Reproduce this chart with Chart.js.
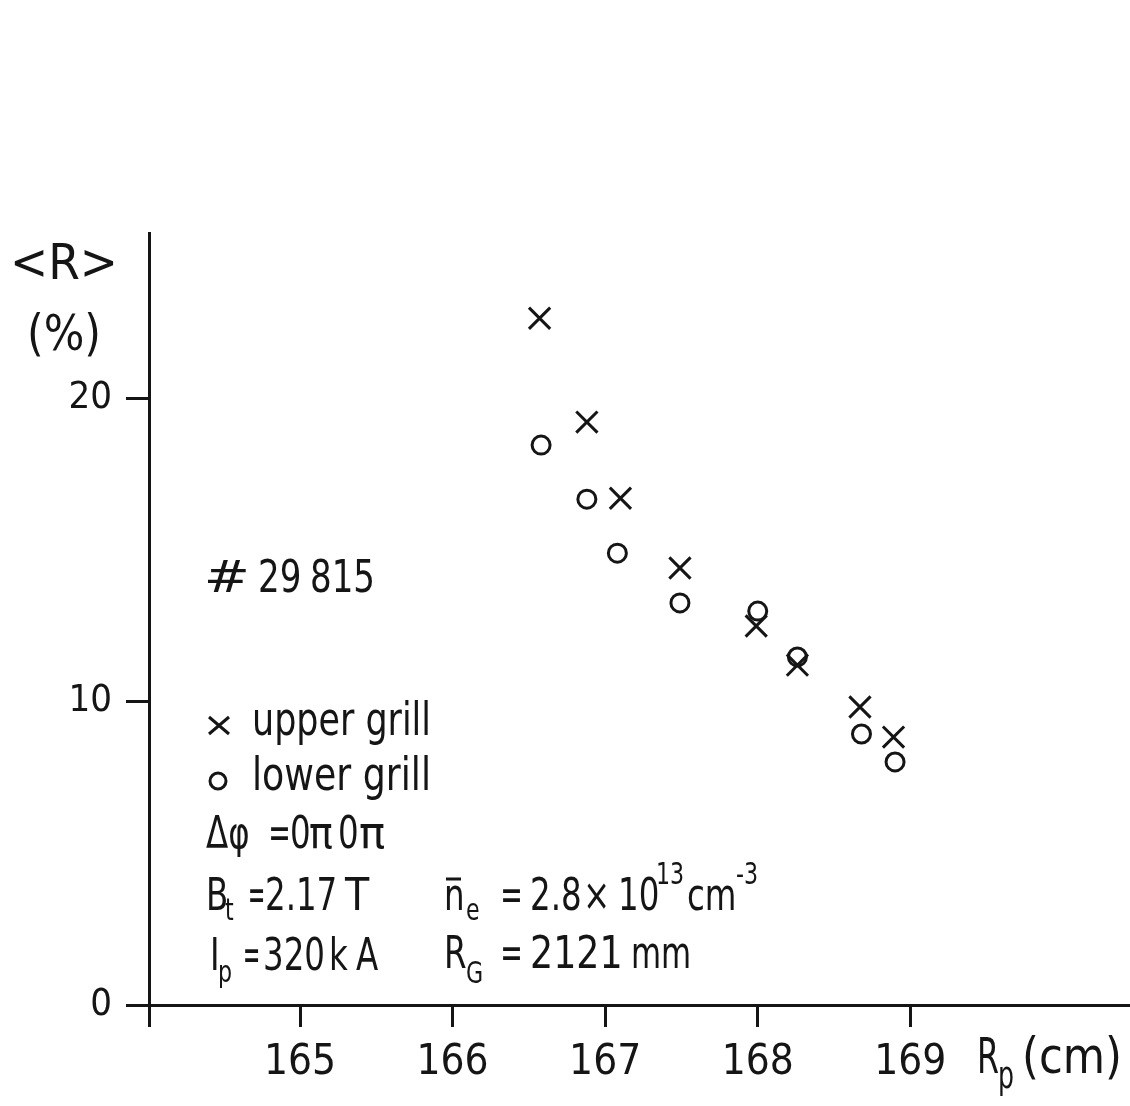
<!DOCTYPE html>
<html>
<head>
<meta charset="utf-8">
<script src="https://cdn.jsdelivr.net/npm/chart.js@4/dist/chart.umd.min.js"></script>
<style>
  html, body { margin: 0; padding: 0; background: #fff; overflow: hidden; }
  canvas { display: block; }
</style>
</head>
<body>
<canvas id="grafico" width="1130" height="1106"></canvas>
<script>
// =====================
// DATOS
// =====================
const xTicks = [165, 166, 167, 168, 169];
const yTicks = [0, 10, 20];

// x  -> upper grill
const rpUpper = [166.57, 166.88, 167.10, 167.49, 167.99, 168.26, 168.67, 168.89];
const rUpper  = [22.63, 19.21, 16.70, 14.40, 12.49, 11.20, 9.82, 8.83];

// o  -> lower grill
const rpLower = [166.58, 166.88, 167.08, 167.49, 168.00, 168.26, 168.68, 168.90];
const rLower  = [18.45, 16.67, 14.89, 13.25, 12.98, 11.47, 8.93, 8.01];

const X_MIN = 164.01, X_MAX = 170.44;
const Y_MIN = 0, Y_MAX = 25.44;

// =====================
// ESTILO
// =====================
const FONT = "'DejaVu Sans Condensed','DejaVu Sans',sans-serif";
const INK = "#151515";
const SX = 0.82;   // la letra del original es más estrecha

function draw(ctx, t, size, x, y, sx) {
  ctx.font = size + "px " + FONT;
  ctx.save();
  ctx.translate(x, y);
  ctx.scale(sx || SX, 1);
  ctx.fillText(t, 0, 0);
  ctx.restore();
}

// texto ajustado al ancho x0..x1
function fit(ctx, t, size, x0, x1, y) {
  ctx.font = size + "px " + FONT;
  draw(ctx, t, size, x0, y, (x1 - x0) / ctx.measureText(t).width);
}

// igual, pero la tinta (no el avance) ocupa x0..x1
function fitInk(ctx, t, size, x0, x1, y) {
  ctx.font = size + "px " + FONT;
  const m = ctx.measureText(t);
  const w = m.actualBoundingBoxLeft + m.actualBoundingBoxRight;
  const sx = (x1 - x0) / w;
  draw(ctx, t, size, x0 + m.actualBoundingBoxLeft * sx, y, sx);
}

const anotaciones = {
  id: "anotaciones",
  afterDraw(chart) {
    const ctx = chart.ctx;
    ctx.save();
    ctx.fillStyle = INK;
    ctx.strokeStyle = INK;
    ctx.textBaseline = "alphabetic";
    ctx.textAlign = "left";

    // título eje y
    fit(ctx, "<R>", 50, 10, 118, 279);
    fit(ctx, "(%)", 50, 27, 101, 350);

    // título eje x
    fit(ctx, "R", 50, 977, 999, 1073);
    fit(ctx, "p", 38, 998, 1014, 1088);
    fit(ctx, "(cm)", 50, 1022, 1122, 1073);

    // número de descarga
    fitInk(ctx, "#", 44, 208, 247, 592);
    draw(ctx, "29", 44, 258, 592, 0.86);
    draw(ctx, "815", 44, 310, 592, 0.86);

    // leyenda
    ctx.lineWidth = 3;
    ctx.beginPath();
    ctx.moveTo(209, 717); ctx.lineTo(229, 734);
    ctx.moveTo(229, 717); ctx.lineTo(209, 734);
    ctx.stroke();
    fit(ctx, "upper grill", 46, 252, 431, 735);

    ctx.beginPath();
    ctx.arc(218, 781, 8, 0, Math.PI * 2);
    ctx.stroke();
    fit(ctx, "lower grill", 46, 252, 431, 790);

    // parámetros
    draw(ctx, "Δφ", 44, 206, 848);
    fitInk(ctx, "=", 44, 271, 288, 848);
    draw(ctx, "0", 44, 290, 848);
    draw(ctx, "π", 44, 309, 848, 1.0);
    draw(ctx, "0", 44, 338, 848);
    draw(ctx, "π", 44, 359, 848, 1.1);

    draw(ctx, "B", 44, 206, 910);
    draw(ctx, "t", 30, 225, 920);
    fitInk(ctx, "=", 44, 250, 263, 910);
    draw(ctx, "2.17", 44, 265, 910);
    draw(ctx, "T", 44, 345, 910, 1.0);

    draw(ctx, "n", 44, 444, 910);
    ctx.lineWidth = 3;
    ctx.beginPath();
    ctx.moveTo(446, 879); ctx.lineTo(461, 879);
    ctx.stroke();
    draw(ctx, "e", 30, 466, 920);
    fitInk(ctx, "=", 44, 503, 520, 910);
    draw(ctx, "2.8", 44, 530, 910);
    draw(ctx, "×", 44, 583, 910);
    draw(ctx, "10", 44, 618, 910);
    draw(ctx, "13", 30, 656, 884);
    draw(ctx, "cm", 44, 687, 910);
    draw(ctx, "-3", 30, 736, 884);

    draw(ctx, "I", 44, 210, 970);
    draw(ctx, "p", 30, 218, 982);
    fitInk(ctx, "=", 44, 245, 258, 970);
    draw(ctx, "320", 44, 263, 970);
    draw(ctx, "k", 44, 329, 970);
    draw(ctx, "A", 44, 356, 970);

    draw(ctx, "R", 44, 444, 968);
    draw(ctx, "G", 30, 466, 983);
    fitInk(ctx, "=", 44, 503, 520, 968);
    draw(ctx, "2121", 44, 530, 968, 0.92);
    draw(ctx, "mm", 44, 631, 968, 0.78);

    ctx.restore();
  }
};

// =====================
// GRÁFICO
// =====================
const chart = new Chart(document.getElementById("grafico"), {
  type: "scatter",
  data: {
    datasets: [
      {
        label: "upper grill",
        data: rpUpper.map((v, i) => ({ x: v, y: rUpper[i] })),
        pointStyle: "crossRot",
        pointRadius: 15,
        pointBorderWidth: 3,
        borderColor: INK,
        backgroundColor: INK
      },
      {
        label: "lower grill",
        data: rpLower.map((v, i) => ({ x: v, y: rLower[i] })),
        pointStyle: "circle",
        pointRadius: 9,
        pointBorderWidth: 3,
        borderColor: INK,
        backgroundColor: "rgba(0,0,0,0)"
      }
    ]
  },
  options: {
    responsive: false,
    animation: false,
    devicePixelRatio: 1,
    layout: { autoPadding: false, padding: { left: 0, top: 233, right: 0, bottom: 0 } },
    plugins: {
      legend: { display: false },
      tooltip: { enabled: false }
    },
    scales: {
      x: {
        type: "linear",
        min: X_MIN,
        max: X_MAX,
        afterBuildTicks: s => { s.ticks = [{ value: X_MIN }].concat(xTicks.map(v => ({ value: v }))); },
        afterFit: s => { s.height = 101; },
        border: { display: true, color: INK, width: 3 },
        grid: { drawOnChartArea: false, drawTicks: true, tickLength: 22, lineWidth: 3, color: INK },
        ticks: {
          autoSkip: false,
          maxRotation: 0,
          padding: 11,
          color: INK,
          font: { family: FONT, size: 42 },
          callback: v => xTicks.includes(v) ? String(v) : ""
        }
      },
      y: {
        type: "linear",
        min: Y_MIN,
        max: Y_MAX,
        afterBuildTicks: s => { s.ticks = yTicks.map(v => ({ value: v })); },
        afterFit: s => { s.width = 149; },
        border: { display: true, color: INK, width: 3 },
        grid: { drawOnChartArea: false, drawTicks: true, tickLength: 23, lineWidth: 3, color: INK },
        ticks: {
          autoSkip: false,
          padding: 14,
          color: INK,
          font: { family: FONT, size: 38 },
          callback: v => String(v)
        }
      }
    }
  },
  plugins: [anotaciones]
});
</script>
</body>
</html>
